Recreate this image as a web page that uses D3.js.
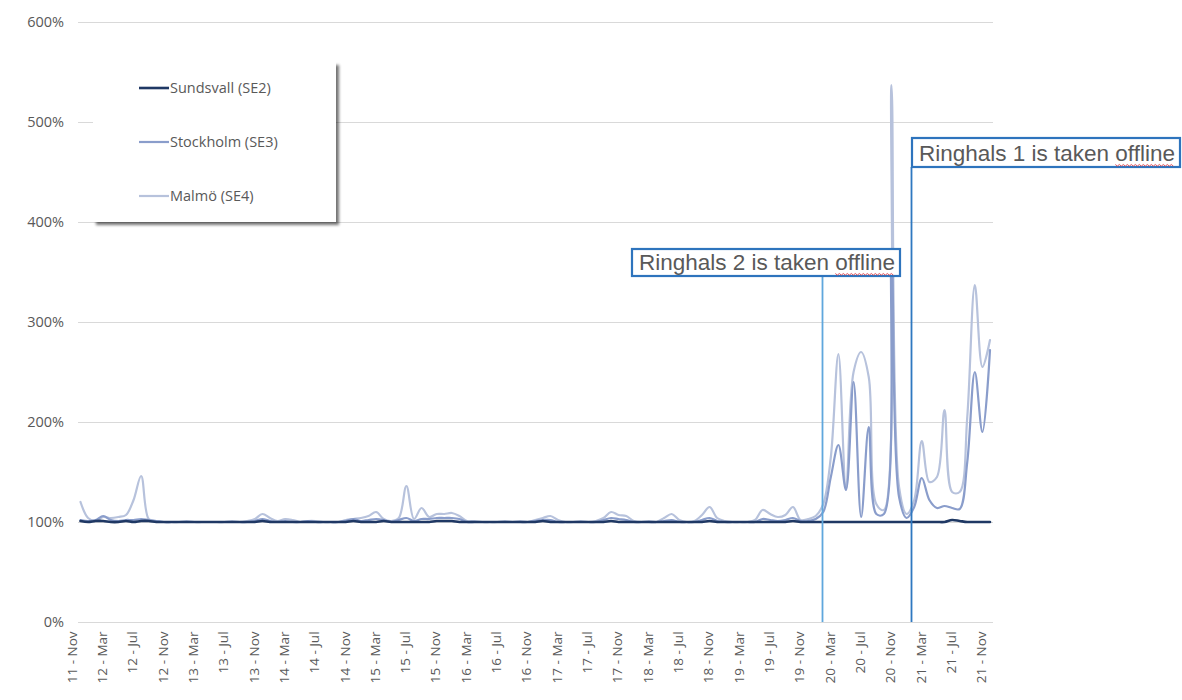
<!DOCTYPE html>
<html>
<head>
<meta charset="utf-8">
<script src="https://cdn.jsdelivr.net/npm/d3@7"></script>
<style>
  html, body { margin: 0; padding: 0; background: #ffffff; }
  svg { display: block; }
</style>
</head>
<body>
<svg id="chart" width="1182" height="700"></svg>
<script>
// Monthly area price relative to SE1, Nov 2011 – Nov 2021 (121 months)
const tickLabels = [
  "11 - Nov", "12 - Mar", "12 - Jul", "12 - Nov", "13 - Mar", "13 - Jul", "13 - Nov",
  "14 - Mar", "14 - Jul", "14 - Nov", "15 - Mar", "15 - Jul", "15 - Nov", "16 - Mar",
  "16 - Jul", "16 - Nov", "17 - Mar", "17 - Jul", "17 - Nov", "18 - Mar", "18 - Jul",
  "18 - Nov", "19 - Mar", "19 - Jul", "19 - Nov", "20 - Mar", "20 - Jul", "20 - Nov",
  "21 - Mar", "21 - Jul", "21 - Nov"
];
const yTicks = [0, 100, 200, 300, 400, 500, 600];

const sundsvall = [
  101, 100, 101, 101, 100, 100, 101, 100, 101, 101, 100, 100,
  100, 100, 100, 100, 100, 100, 100, 100, 100, 100, 100, 100,
  101, 100, 100, 100, 100, 100, 100, 100, 100, 100, 100, 100,
  101, 100, 100, 100, 101, 100, 100, 100, 100, 100, 100, 101,
  101, 101, 100, 100, 100, 100, 100, 100, 100, 100, 100, 100,
  100, 101, 100, 100, 100, 100, 100, 100, 100, 100, 101, 100,
  100, 100, 100, 100, 100, 100, 100, 100, 100, 100, 100, 101,
  100, 100, 100, 100, 100, 100, 100, 100, 100, 100, 101, 100,
  100, 100, 100, 100, 100, 100, 100, 100, 100, 100, 100, 100,
  100, 100, 100, 100, 100, 100, 100, 102, 101, 100, 100, 100,
  100
];

const stockholm = [
  102, 101, 102, 106, 102, 101, 102, 102, 103, 102, 101, 100,
  100, 100, 100, 100, 100, 100, 100, 100, 100, 100, 100, 101,
  103, 101, 100, 101, 100, 100, 101, 100, 100, 100, 100, 101,
  103, 101, 102, 103, 102, 100, 102, 104, 101, 103, 103, 104,
  104, 104, 103, 100, 100, 100, 100, 100, 100, 100, 100, 100,
  101, 102, 102, 100, 100, 100, 100, 100, 100, 102, 104, 103,
  102, 100, 100, 100, 100, 101, 102, 100, 100, 100, 102, 104,
  101, 100, 100, 100, 100, 100, 103, 102, 101, 102, 104, 101,
  101, 103, 110, 145, 177, 132, 240, 105, 195, 108, 108, 370,
  125, 104, 115, 144, 122, 114, 116, 114, 113, 160, 250, 190,
  272
];

const malmo = [
  120, 104, 101, 105, 104, 105, 107, 122, 146, 103, 101, 100,
  100, 100, 101, 100, 100, 100, 100, 100, 101, 100, 101, 103,
  108, 104, 101, 103, 102, 100, 101, 101, 100, 100, 100, 102,
  103, 104, 106, 110, 103, 101, 104, 136, 103, 114, 105, 108,
  108, 109, 106, 101, 101, 100, 100, 100, 101, 100, 101, 100,
  102, 104, 106, 102, 100, 100, 101, 100, 101, 104, 110, 107,
  106, 101, 100, 101, 100, 104, 108, 102, 100, 101, 107, 115,
  104, 101, 100, 100, 100, 102, 112, 108, 105, 107, 115, 102,
  103, 106, 118, 165, 268, 133, 250, 270, 245, 118, 112, 537,
  135, 108, 122, 181, 140, 145, 212, 130, 130, 205, 337, 255,
  282
];

const seriesNames = ["Sundsvall (SE2)", "Stockholm (SE3)", "Malmö (SE4)"];
const seriesColors = ["#1f3864", "#8a9dcb", "#b7c2dc"];
const seriesWidths = [2.6, 2.2, 2.2];

// Event markers: position in months from Nov 2011, and label
const eventIndex = [97.8, 109.6];
const eventLabels = ["Ringhals 2 is taken offline", "Ringhals 1 is taken offline"];

const svg = d3.select("#chart");
const W = 1182, H = 700;
svg.append("rect").attr("width", W).attr("height", H).attr("fill", "#ffffff");

const plotLeft = 78, plotRight = 993, plotTop = 22, plotBottom = 622;
const x = d3.scaleLinear().domain([0, 120]).range([80.5, 990]);
const y = d3.scaleLinear().domain([0, 600]).range([plotBottom, plotTop]);

// Horizontal gridlines
svg.append("g")
  .selectAll("line")
  .data(yTicks)
  .join("line")
  .attr("x1", plotLeft).attr("x2", plotRight)
  .attr("y1", d => y(d) + 0.5).attr("y2", d => y(d) + 0.5)
  .attr("stroke", "#d9d9d9").attr("stroke-width", 1.2);

// Y axis labels
const yAxis = d3.axisLeft(y).tickValues(yTicks).tickFormat(d => d + "%").tickSize(0).tickPadding(14);
const gy = svg.append("g").attr("transform", `translate(${plotLeft},0)`).call(yAxis);
gy.select(".domain").remove();
gy.selectAll("text")
  .attr("font-family", "'Open Sans', 'Liberation Sans', sans-serif")
  .attr("font-size", 14.5)
  .attr("fill", "#595959");

// X axis with rotated labels every 4 months
const tickIdx = tickLabels.map((_, i) => i * 4);
const xAxis = d3.axisBottom(x).tickValues(tickIdx).tickFormat((d, i) => tickLabels[i]).tickSize(0).tickPadding(6);
const gx = svg.append("g").attr("transform", `translate(0,${plotBottom})`).call(xAxis);
gx.select(".domain").remove();
gx.selectAll("text")
  .attr("font-family", "'Open Sans', 'Liberation Sans', sans-serif")
  .attr("font-size", 13.5)
  .attr("fill", "#595959")
  .attr("text-anchor", "end")
  .attr("dx", "-0.7em")
  .attr("dy", "-0.32em")
  .attr("x", 0).attr("y", 0)
  .attr("transform", "rotate(-90)");

// Series lines
const line = d3.line()
  .x((d, i) => x(i))
  .y(d => y(d))
  .curve(d3.curveCatmullRom.alpha(0.5));

const seriesData = [sundsvall, stockholm, malmo];
const drawOrder = [2, 1, 0];
const gLines = svg.append("g");
drawOrder.forEach(k => {
  gLines.append("path")
    .datum(seriesData[k])
    .attr("d", line)
    .attr("fill", "none")
    .attr("stroke", seriesColors[k])
    .attr("stroke-width", seriesWidths[k])
    .attr("stroke-linejoin", "round")
    .attr("stroke-linecap", "round");
});

// Legend panel with drop shadow
const defs = svg.append("defs");
const sh = defs.append("filter").attr("id", "legendShadow")
  .attr("x", "-10%").attr("y", "-10%").attr("width", "130%").attr("height", "130%");
sh.append("feGaussianBlur").attr("in", "SourceAlpha").attr("stdDeviation", 1.6).attr("result", "b");
sh.append("feOffset").attr("in", "b").attr("dx", 2.5).attr("dy", 2.5).attr("result", "o");
sh.append("feComponentTransfer").attr("in", "o").attr("result", "s")
  .append("feFuncA").attr("type", "linear").attr("slope", 0.55);
const fm = sh.append("feMerge");
fm.append("feMergeNode").attr("in", "s");
fm.append("feMergeNode").attr("in", "SourceGraphic");

const legend = svg.append("g");
legend.append("rect")
  .attr("x", 93).attr("y", 62).attr("width", 243).attr("height", 160)
  .attr("fill", "#ffffff")
  .attr("filter", "url(#legendShadow)");
const legendY = [88, 142, 196];
seriesNames.forEach((name, k) => {
  legend.append("line")
    .attr("x1", 139).attr("x2", 169)
    .attr("y1", legendY[k]).attr("y2", legendY[k])
    .attr("stroke", seriesColors[k]).attr("stroke-width", k === 0 ? 2.6 : 2.2);
  legend.append("text")
    .attr("x", 170).attr("y", legendY[k] + 5)
    .attr("font-family", "'Open Sans', 'Liberation Sans', sans-serif")
    .attr("font-size", 14.5)
    .attr("fill", "#595959")
    .text(name);
});

// Event annotations: vertical marker plus labelled box
const eventLineColors = ["#5fa7dd", "#2f78c0"];
const boxes = [
  { left: 632, top: 249, width: 268, height: 27 },
  { left: 912, top: 138, width: 268, height: 29 }
];
const labelFont = 22.5;
eventLabels.forEach((label, k) => {
  const ex = Math.round(x(eventIndex[k])) + 0.5;
  const b = boxes[k];
  svg.append("line")
    .attr("x1", ex).attr("x2", ex)
    .attr("y1", b.top + b.height).attr("y2", plotBottom)
    .attr("stroke", eventLineColors[k]).attr("stroke-width", 1.8);
  svg.append("rect")
    .attr("x", b.left).attr("y", b.top)
    .attr("width", b.width).attr("height", b.height)
    .attr("fill", "#ffffff")
    .attr("stroke", "#2e74bd").attr("stroke-width", 2.2);
  const t = svg.append("text")
    .attr("x", b.left + 7).attr("y", b.top + b.height - 6.5)
    .attr("font-family", "'Liberation Sans', Arial, sans-serif")
    .attr("font-size", labelFont)
    .attr("fill", "#595959")
    .text(label);
  // spell-check squiggle under the last word
  const full = t.node().getComputedTextLength();
  const tmp = svg.append("text").attr("font-family", "'Liberation Sans', Arial, sans-serif")
    .attr("font-size", labelFont).text("offline");
  const wlen = tmp.node().getComputedTextLength();
  tmp.remove();
  const sx = b.left + 7 + full - wlen, sy = b.top + b.height - 2.5;
  const pts = [];
  for (let px = 0; px <= wlen; px += 2) pts.push([sx + px, sy + ((px / 2) % 2 === 0 ? 0 : 1.6)]);
  svg.append("path")
    .attr("d", d3.line()(pts))
    .attr("fill", "none")
    .attr("stroke", "#e0424a")
    .attr("stroke-width", 0.9);
});
</script>
</body>
</html>
